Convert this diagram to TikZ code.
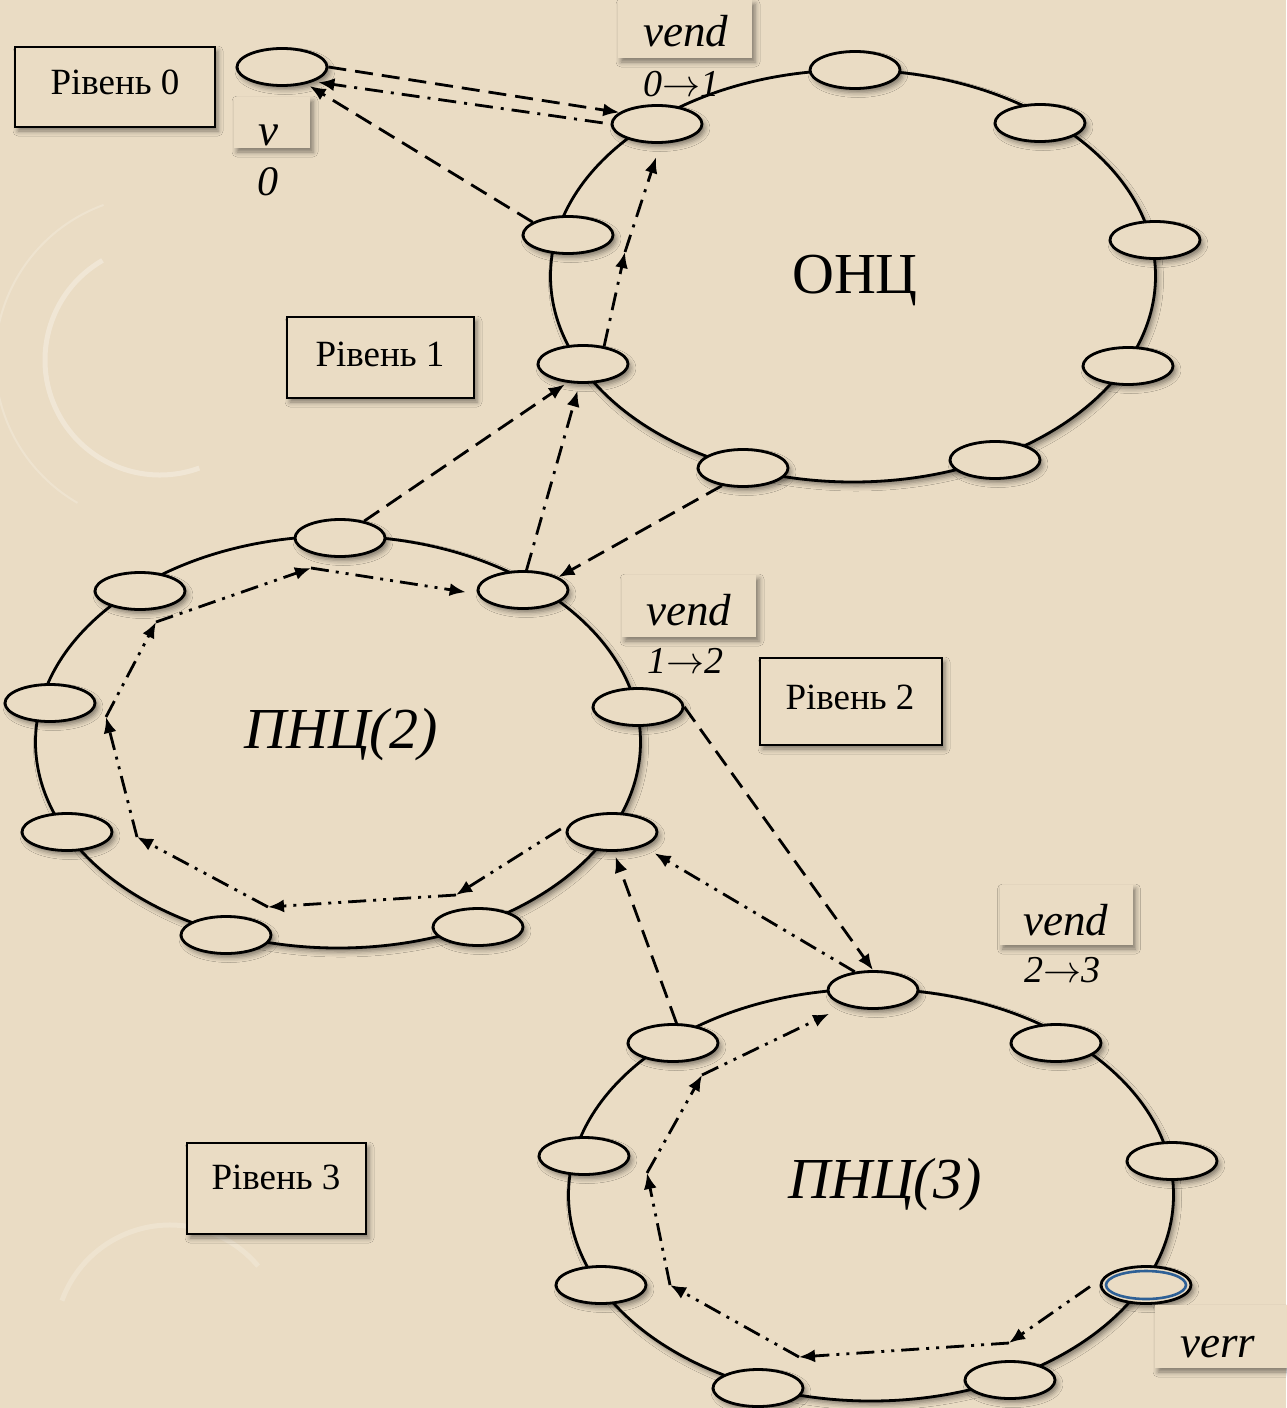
\RequirePackage{fix-cm}
\documentclass[tikz,border=0pt]{standalone}
\usepackage{fontspec}
\setmainfont{Liberation Serif}
\usetikzlibrary{arrows.meta,shapes.geometric,shadows.blur}
\definecolor{bg}{RGB}{234,220,196}
\definecolor{ringblue}{RGB}{46,96,150}
\newcommand{\tagarrow}{\ensuremath{\rightarrow}}
\begin{document}
\begin{tikzpicture}[x=1pt,y=-1pt,
  sh/.style={blur shadow={shadow xshift=3pt,shadow yshift=-4pt,shadow blur radius=5pt,shadow opacity=45}},
  bigell/.style={ellipse,draw,line width=2.8pt,fill=bg,minimum width=605pt,minimum height=412pt,inner sep=0pt,sh},
  smell/.style={ellipse,draw,line width=2.8pt,fill=bg,minimum width=90pt,minimum height=37pt,inner sep=0pt,sh},
  lvlbox/.style={rectangle,draw,line width=2pt,fill=bg,inner sep=0pt,sh},
  tagbox/.style={rectangle,fill=bg,inner sep=0pt,sh},
  lvltext/.style={font=\fontsize{37}{40}\selectfont,inner sep=0pt},
  bigtext/.style={font=\fontsize{58}{62}\selectfont,inner sep=0pt},
  bigit/.style={font=\fontsize{58}{62}\selectfont\itshape,inner sep=0pt},
  tagtext/.style={font=\fontsize{45}{48}\selectfont\itshape,anchor=base,inner sep=0pt},
  subtext/.style={font=\fontsize{38}{40}\selectfont\itshape,inner sep=0pt},
  conn/.style={line width=2.8pt,-{Latex[length=16pt,width=13pt]}},
  dsh/.style={conn,dash pattern=on 18pt off 9pt},
  dsd/.style={conn,dash pattern=on 18pt off 8pt on 3pt off 8pt},
  dsdd/.style={conn,dash pattern=on 18pt off 7pt on 3pt off 7pt on 3pt off 7pt},
  deco/.style={white,opacity=0.3,line width=5pt}
]
\fill[bg] (0,0) rectangle (1286,1408);
\useasboundingbox (0,0) rectangle (1286,1408);

% faint background decoration
\draw[deco] (160,360) ++(240:115) arc[start angle=240,end angle=70,radius=115];
\draw[deco,line width=2pt,opacity=0.2] (160,360) ++(250:165) arc[start angle=250,end angle=120,radius=165];
\draw[deco,opacity=0.2] (170,1340) ++(200:115) arc[start angle=200,end angle=320,radius=115];

% big rings
\node[bigell] (onc) at (853,276) {};
\node[bigell] (pnc2) at (338,742) {};
\node[bigell] (pnc3) at (871,1195) {};

% small ellipses: ONC
\node[smell] (v0) at (282,67) {};
\node[smell] (o1) at (657,124) {};
\node[smell] (o2) at (855,70) {};
\node[smell] (o3) at (1040,123) {};
\node[smell] (o4) at (1155,240) {};
\node[smell] (o5) at (1128,366) {};
\node[smell] (o6) at (995,460) {};
\node[smell] (o7) at (743,468) {};
\node[smell] (o8) at (583,364) {};
\node[smell] (o9) at (568,235) {};
% PNC2
\node[smell] (p1) at (340,538) {};
\node[smell] (p2) at (140,591) {};
\node[smell] (p3) at (50,703) {};
\node[smell] (p4) at (67,832) {};
\node[smell] (p5) at (226,935) {};
\node[smell] (p6) at (478,927) {};
\node[smell] (p7) at (612,832) {};
\node[smell] (p8) at (638,707) {};
\node[smell] (p9) at (523,590) {};
% PNC3
\node[smell] (q1) at (873,990) {};
\node[smell] (q2) at (673,1043) {};
\node[smell] (q3) at (584,1156) {};
\node[smell] (q4) at (601,1285) {};
\node[smell] (q5) at (758,1388) {};
\node[smell] (q6) at (1010,1380) {};
\node[smell] (q7) at (1146,1285) {};
\node[smell] (q8) at (1172,1161) {};
\node[smell] (q9) at (1056,1043) {};
\draw[ringblue,line width=2.6pt] (q7.center) ellipse (40pt and 14pt);

% level boxes
\node[lvlbox,minimum width=200pt,minimum height=80pt] (L0) at (115,87) {};
\node[lvltext] (L0t) at (115,82) {Рівень 0};
\node[lvlbox,minimum width=187pt,minimum height=81pt] (L1) at (380.5,357.5) {};
\node[lvltext] (L1t) at (380,354) {Рівень 1};
\node[lvlbox,minimum width=182pt,minimum height=87pt] (L2) at (851,701.5) {};
\node[lvltext] (L2t) at (850,697) {Рівень 2};
\node[lvlbox,minimum width=179pt,minimum height=91pt] (L3) at (276.5,1188.5) {};
\node[lvltext] (L3t) at (276,1177) {Рівень 3};

% tag boxes
\node[tagbox,minimum width=76pt,minimum height=51pt] (tv) at (272,122.5) {};
\node[tagbox,minimum width=134pt,minimum height=58pt] (te1) at (685,29) {};
\node[tagbox,minimum width=134pt,minimum height=62pt] (te2) at (689,606) {};
\node[tagbox,minimum width=133pt,minimum height=60pt] (te3) at (1066,915) {};
\node[tagbox,minimum width=134pt,minimum height=63pt] (terr) at (1222,1336.5) {};

\node[tagtext] (tvt) at (268,145) {v};
\node[subtext,font=\fontsize{42}{44}\selectfont\itshape] (tvs) at (268,182) {0};
\node[tagtext] (te1t) at (686,46) {vend};
\node[subtext] (te1s) at (681,84) {0\tagarrow 1};
\node[tagtext] (te2t) at (689,625) {vend};
\node[subtext] (te2s) at (685,661) {1\tagarrow 2};
\node[tagtext] (te3t) at (1066,935) {vend};
\node[subtext] (te3s) at (1062,970) {2\tagarrow 3};
\node[tagtext] (terrt) at (1218,1357) {verr};

% ring titles
\node[bigtext] (onct) at (855,280) {ОНЦ};
\node[bigit] (pnc2t) at (341,735) {ПНЦ(2)};
\node[bigit] (pnc3t) at (885,1185) {ПНЦ(3)};

% coordinates for inner paths
\coordinate (c2) at (625,252);
\coordinate (a2) at (456,895);
\coordinate (a3) at (268,907);
\coordinate (a4) at (137,837);
\coordinate (a5) at (106,717);
\coordinate (a6) at (156,622);
\coordinate (a7) at (311,568);
\coordinate (b2) at (1009,1343);
\coordinate (b3) at (799,1357);
\coordinate (b4) at (670,1285);
\coordinate (b5) at (647,1173);
\coordinate (b6) at (702,1075);

% level 0 / 1 connectors
\draw[dsh] (v0.east) -- (o1.163);
\draw[dsd,shorten <=8pt,shorten >=5pt] (o1.west) -- (v0.-25);
\draw[dsh,shorten >=4pt] (o9.160) -- (v0.-35);
\draw[dsd] (o8.40) -- (c2);
\draw[dsd,shorten >=14pt] (c2) -- (o1.-80);

% level 1 / 2 connectors
\draw[dsh,shorten >=3pt] (p1.35) -- (o8.-130);
\draw[dsd,shorten >=7pt] (p9.80) -- (o8.-100);
\draw[dsh] (o7.-140) -- (p9.20);

% level 2 / 3 connectors
\draw[dsh] (p8.east) -- (q1.north);
\draw[dsdd,shorten >=13pt] (q1.135) -- (p7.-25);
\draw[dsh,shorten >=5pt] (q2.80) -- (p7.-85);

% PNC2 inner path
\draw[dsdd,shorten <=14pt] (p7.165) -- (a2);
\draw[dsdd] (a2) -- (a3);
\draw[dsdd] (a3) -- (a4);
\draw[dsdd] (a4) -- (a5);
\draw[dsdd] (a5) -- (a6);
\draw[dsdd] (a6) -- (a7);
\draw[dsdd,shorten >=12pt] (a7) -- (p9.185);

% PNC3 inner path
\draw[dsdd,shorten <=16pt] (q7.170) -- (b2);
\draw[dsdd] (b2) -- (b3);
\draw[dsdd] (b3) -- (b4);
\draw[dsdd] (b4) -- (b5);
\draw[dsdd] (b5) -- (b6);
\draw[dsdd,shorten >=18pt] (b6) -- (q1.-150);
\end{tikzpicture}
\end{document}
